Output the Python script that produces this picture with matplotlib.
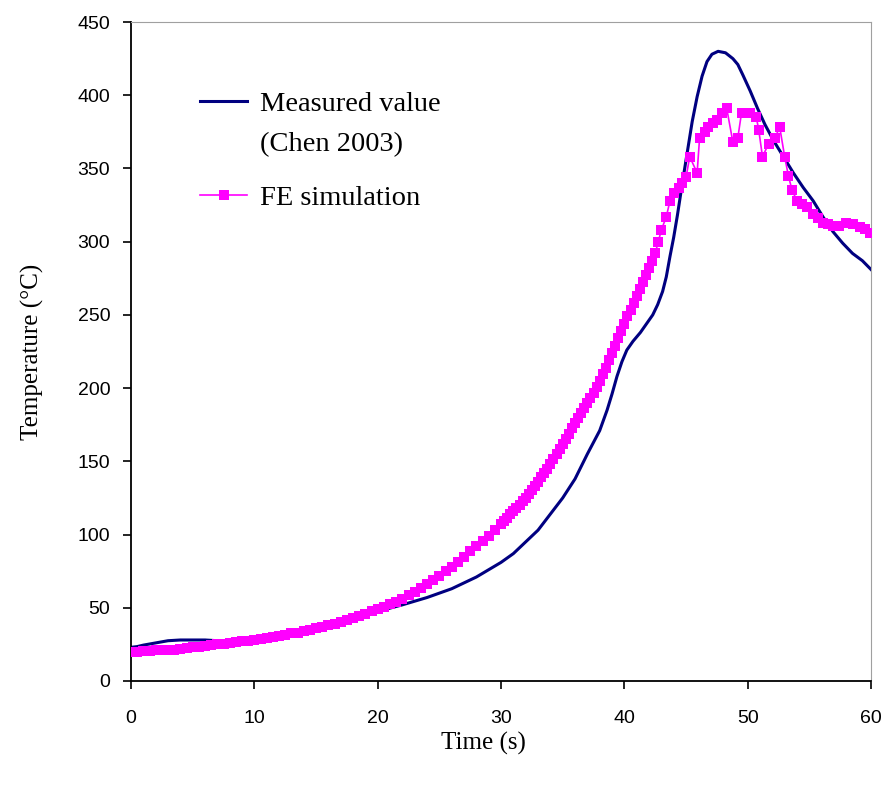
import matplotlib.pyplot as plt
from matplotlib.lines import Line2D

# Measured temperature (Chen 2003)
meas_time = [0, 0.5, 1, 2, 3, 4, 5, 6, 7, 8, 9, 10, 12, 14, 16, 18, 20, 22, 24, 26,
             28, 30, 31, 32, 33, 34, 35, 36, 37, 38, 38.6, 39, 39.4, 39.8, 40.2, 40.7,
             41.3, 41.8, 42.3, 42.7, 43.1, 43.4, 43.7, 44.0, 44.3, 44.7, 45.1, 45.5,
             45.9, 46.3, 46.7, 47.1, 47.6, 48.2, 48.8, 49.2, 49.6, 50.2, 50.8, 51.4,
             52.1, 52.9, 53.7, 54.5, 55.3, 56.1, 56.9, 57.7, 58.5, 59.3, 60]
meas_temp = [23, 23.5, 24.5, 26, 27.5, 28, 28, 28, 27.5, 26.5, 26.5, 27, 29.5, 33, 37,
             42, 47.5, 52, 57, 63, 71, 81, 87, 95, 103, 114, 125, 138, 155, 171, 185,
             196, 208, 218, 226, 232, 238, 244, 250, 257, 266, 276, 290, 303, 318, 340,
             361, 382, 399, 413, 423, 428, 430, 429, 425, 421, 414, 403, 391, 380, 369,
             358, 347, 337, 328, 317, 307, 299, 292, 287, 281]

# FE simulation
fe_time = [0, 0.5, 1, 1.5, 2, 2.5, 3, 3.5, 4, 4.5, 5, 5.5, 6, 6.5, 7, 7.5, 8, 8.5, 9,
           9.5, 10, 10.5, 11, 11.5, 12, 12.5, 13, 13.5, 14, 14.5, 15, 15.5, 16, 16.5,
           17, 17.5, 18, 18.5, 19, 19.5, 20, 20.5, 21, 21.5, 22, 22.5, 23, 23.5, 24,
           24.5, 25, 25.5, 26, 26.5, 27, 27.5, 28, 28.5, 29, 29.5,
           30, 30.25, 30.5, 30.75, 31, 31.25, 31.5, 31.75, 32, 32.25, 32.5, 32.75,
           33, 33.25, 33.5, 33.75, 34, 34.25, 34.5, 34.75, 35, 35.25, 35.5, 35.75,
           36, 36.25, 36.5, 36.75, 37, 37.25, 37.5, 37.75, 38, 38.25, 38.5, 38.75,
           39, 39.25, 39.5, 39.75, 40, 40.25, 40.5, 40.75, 41, 41.25, 41.5, 41.75,
           42, 42.25, 42.5, 42.75,
           43.0, 43.4, 43.7, 44.0, 44.4, 44.7, 45.0, 45.3, 45.9, 46.1, 46.5, 46.8,
           47.2, 47.5, 47.9, 48.3, 48.8, 49.2, 49.5, 49.9, 50.2, 50.7, 50.9, 51.2,
           51.7, 52.2, 52.6, 53.0, 53.3, 53.6, 54.0, 54.4, 54.8, 55.3, 55.7, 56.1,
           56.5, 56.9, 57.4, 58.0, 58.5, 59.1, 59.5, 59.9]
fe_temp = [20, 20, 20.5, 20.5, 21, 21, 21.5, 21.5, 22, 22.5, 23, 23.5, 24, 24.5, 25,
           25.5, 26, 26.5, 27, 27.5, 28, 28.5, 29.5, 30, 31, 31.5, 32.5, 33, 34, 35, 36,
           37, 38, 39, 40.5, 41.5, 43, 44.5, 46, 47.5, 49, 50.5, 52.5, 54, 56, 58.5, 61,
           63.5, 66, 69, 72, 75, 78, 81.5, 85, 88.5, 92, 95.5, 99, 103,
           107, 109, 111.5, 114, 116, 118, 120.5, 123, 125, 128, 130.5, 133,
           136, 139, 142, 145, 148, 151.5, 155, 158.5, 162, 165.5, 169, 172.5,
           176, 179.5, 183, 186.5, 190, 193.5, 197, 201, 205, 209.5, 214, 219,
           224, 229, 234, 239, 244, 249, 253.5, 258, 263, 268, 272.5, 277,
           282, 287, 292, 300,
           308, 317, 328, 333, 337, 340, 344, 358, 347, 371, 375, 378,
           381, 383, 388, 391, 368, 371, 388, 388, 388, 385, 376, 358,
           367, 371, 378, 358, 345, 335, 328, 326, 324, 319, 316, 313,
           312, 311, 311, 313, 312, 310, 309, 306]

x_ticks = [0, 10, 20, 30, 40, 50, 60]
y_ticks = [0, 50, 100, 150, 200, 250, 300, 350, 400, 450]

navy = '#000080'
magenta = '#FF00FF'

fig = plt.figure(figsize=(8.86, 7.87), dpi=100)
ax = fig.add_axes([0.1479, 0.1347, 0.8352, 0.8373])

ax.plot(meas_time, meas_temp, color=navy, linewidth=2.2, zorder=2)
ax.plot(fe_time, fe_temp, color=magenta, linewidth=1.2, marker='s', markersize=7.3,
        markeredgewidth=0, zorder=3)

ax.set_xlim(0, 60)
ax.set_ylim(0, 450)
ax.set_xticks(x_ticks)
ax.set_yticks(y_ticks)
ax.tick_params(direction='out', length=6, width=1.2, labelsize=14)
ax.tick_params(axis='x', pad=15)
ax.tick_params(axis='y', pad=9)
for lab in ax.get_xticklabels() + ax.get_yticklabels():
    lab.set_fontfamily('Liberation Sans')

ax.spines['left'].set_linewidth(1.3)
ax.spines['bottom'].set_linewidth(1.3)
ax.spines['top'].set_color('#a0a0a0')
ax.spines['right'].set_color('#a0a0a0')

ax.set_xlabel('Time (s)', fontfamily='Liberation Serif', fontsize=18, labelpad=3)
ax.xaxis.set_label_coords(0.476, -0.077)
ax.set_ylabel('Temperature (\u00b0C)', fontfamily='Liberation Serif', fontsize=18,
              labelpad=24)

# legend: measured entry with its two-line label, then FE entry lower down
leg_font = {'family': 'Liberation Serif', 'size': 20.5}
h_meas = [Line2D([], [], color=navy, linewidth=2.2),
          Line2D([], [], color='none')]
leg1 = ax.legend(h_meas, ['Measured value', '(Chen 2003)'], loc='upper left',
                 bbox_to_anchor=(189 / 886, 1 - 80 / 787),
                 bbox_transform=fig.transFigure, frameon=False, prop=leg_font,
                 handlelength=1.65, handletextpad=0.45, labelspacing=0.5,
                 borderaxespad=0)
ax.add_artist(leg1)
h_fe = [Line2D([], [], color=magenta, linewidth=1.2, marker='s', markersize=7.3,
               markeredgewidth=0)]
ax.legend(h_fe, ['FE simulation'], loc='upper left',
          bbox_to_anchor=(189 / 886, 1 - 174 / 787),
          bbox_transform=fig.transFigure, frameon=False, prop=leg_font,
          handlelength=1.65, handletextpad=0.45, borderaxespad=0)

fig.savefig('out.png', dpi=100)
